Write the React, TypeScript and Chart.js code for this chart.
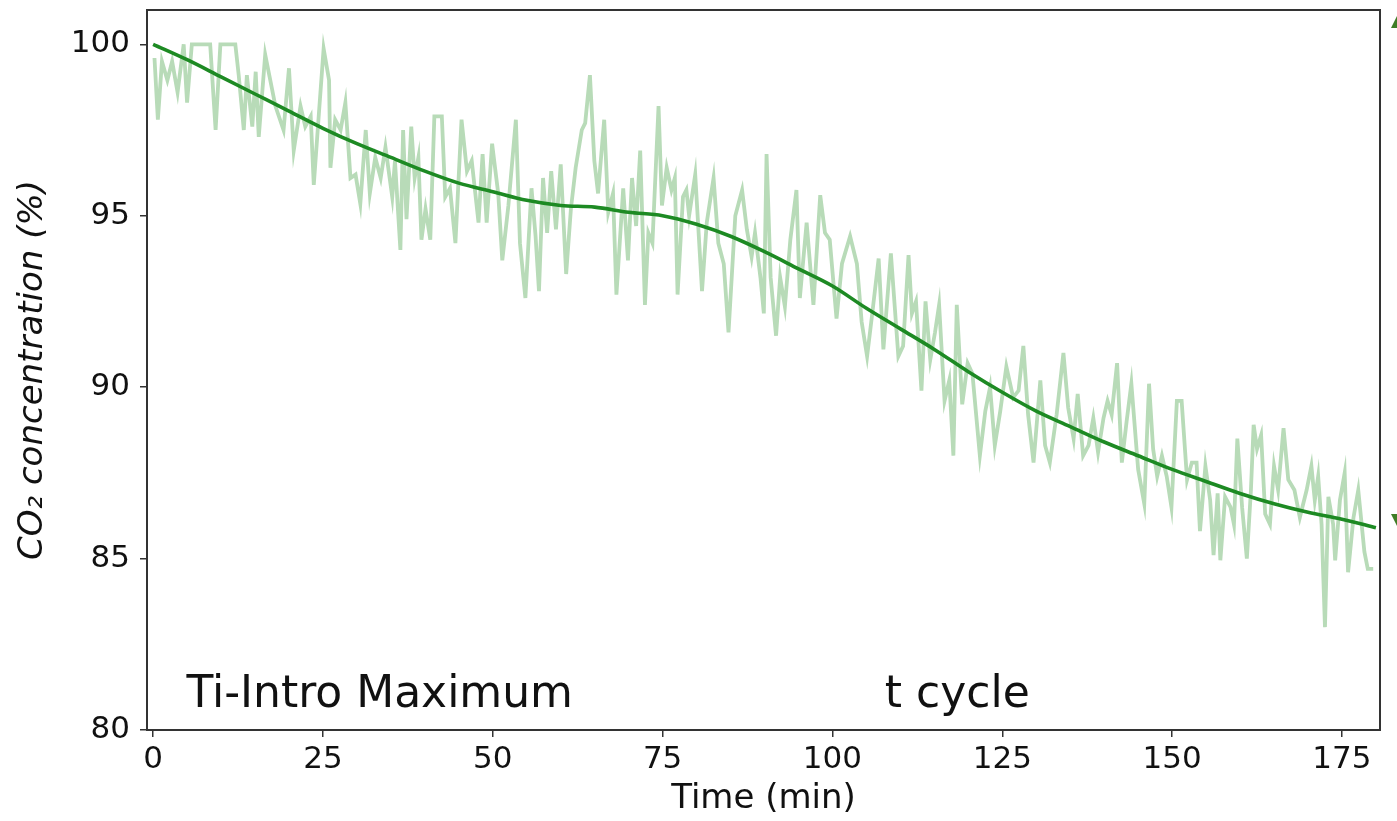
import React, { useEffect, useRef } from 'react';
import { Chart, registerables } from 'chart.js';

Chart.register(...registerables);

// Smoothed trend (min, %)
const smoothTime = [0, 5, 10, 15, 20, 25, 30, 35, 40, 45, 50, 55, 60, 65, 70, 75, 80, 85, 90, 95, 100, 105, 110, 115, 120, 125, 130, 135, 140, 145, 150, 155, 160, 165, 170, 175, 180];
const smoothValue = [100, 99.55, 99.05, 98.55, 98.05, 97.55, 97.1, 96.7, 96.3, 95.95, 95.7, 95.45, 95.3, 95.25, 95.1, 95.0, 94.75, 94.4, 93.95, 93.45, 92.95, 92.3, 91.7, 91.1, 90.45, 89.85, 89.3, 88.85, 88.4, 88.0, 87.6, 87.25, 86.9, 86.6, 86.35, 86.15, 85.9];

// Raw measurement (min, %)
const noisyTime = [
  0.2, 0.7, 1.3, 2.1, 2.8, 3.6, 4.5, 5.0, 5.7, 8.4, 9.2, 9.9, 12.1, 12.6, 13.35, 13.8, 14.6, 15.1, 15.55, 16.5,
  17.5, 18.0, 19.2, 20.0, 20.7, 21.7, 22.4, 23.2, 23.65, 24.4, 25.1, 25.9, 26.1, 26.8, 27.6, 28.3, 29.05, 29.8, 30.5, 31.3,
  31.9, 32.7, 33.5, 34.2, 35.2, 35.6, 36.4, 36.8, 37.3, 38.0, 38.5, 39.05, 39.5, 40.1, 40.8, 41.4, 42.0, 42.5, 43.0, 43.7,
  44.5, 45.4, 46.2, 46.9, 47.9, 48.5, 49.1, 49.9, 50.8, 51.4, 52.3, 53.4, 54.0, 54.8, 55.7, 56.3, 56.8, 57.4, 58.0, 58.6,
  59.3, 60.0, 60.8, 61.5, 62.2, 63.1, 63.6, 64.3, 64.95, 65.5, 66.4, 67.0, 67.7, 68.2, 69.2, 69.9, 70.5, 71.1, 71.7, 72.4,
  72.9, 73.5, 74.4, 74.9, 75.6, 76.3, 76.8, 77.2, 78.0, 78.5, 78.9, 79.8, 80.8, 81.5, 82.5, 83.2, 84.0, 84.7, 85.7, 86.7,
  87.4, 88.1, 88.6, 89.4, 89.9, 90.3, 90.9, 91.7, 92.3, 93.0, 93.8, 94.7, 95.2, 96.2, 97.2, 98.2, 98.9, 99.6, 100.6, 101.4,
  102.6, 103.6, 104.3, 105.1, 105.8, 106.8, 107.5, 108.6, 109.7, 110.4, 111.2, 111.7, 112.3, 113.1, 113.7, 114.4, 115.1, 115.7, 116.5, 117.2,
  117.8, 118.3, 119.1, 119.9, 120.6, 121.7, 122.5, 123.2, 123.9, 124.7, 125.6, 126.6, 127.4, 128.1, 128.8, 129.6, 130.6, 131.3, 132.0, 133.0,
  134.0, 134.7, 135.5, 136.1, 136.9, 137.7, 138.4, 139.1, 139.9, 140.5, 141.1, 141.9, 142.6, 143.3, 144.0, 145.0, 145.9, 146.6, 147.2, 147.8,
  148.5, 149.2, 149.9, 150.7, 151.4, 152.2, 152.9, 153.6, 154.1, 154.9, 155.6, 156.1, 156.7, 157.1, 157.8, 158.6, 159.1, 159.6, 160.3, 161.0,
  161.6, 162.0, 162.5, 163.1, 163.7, 164.4, 165.0, 165.6, 166.4, 167.1, 168.0, 168.8, 169.8, 170.5, 171.0, 171.5, 172.0, 172.5, 173.0, 173.7,
  174.0, 174.7, 175.4, 175.9, 176.7, 177.4, 178.3, 178.8, 179.6
];
const noisyValue = [
  99.6, 97.8, 99.5, 98.95, 99.5, 98.6, 100, 98.3, 100, 100, 97.5, 100, 100, 99.1, 97.5, 99.1, 97.6, 99.2, 97.3, 99.7,
  98.7, 98.2, 97.5, 99.3, 96.9, 98.2, 97.6, 97.9, 95.9, 97.97, 99.87, 98.95, 96.4, 97.8, 97.5, 98.3, 96.1, 96.2, 95.35, 97.5,
  95.65, 96.7, 96.1, 97.0, 95.55, 96.6, 94.0, 97.5, 94.9, 97.6, 96.1, 96.7, 94.3, 95.2, 94.3, 97.9, 97.9, 97.9, 95.55, 95.8,
  94.2, 97.8, 96.3, 96.6, 94.8, 96.8, 94.8, 97.1, 95.65, 93.7, 95.3, 97.8, 94.2, 92.6, 95.8, 94.4, 92.8, 96.1, 94.5, 96.3,
  94.6, 96.5, 93.3, 95.2, 96.4, 97.5, 97.7, 99.1, 96.6, 95.65, 97.8, 95.1, 95.65, 92.7, 95.8, 93.7, 96.1, 94.7, 96.9, 92.4,
  94.5, 94.2, 98.2, 95.3, 96.4, 95.75, 96.1, 92.7, 95.55, 95.75, 95.0, 96.2, 92.8, 94.8, 96.1, 94.2, 93.6, 91.6, 95.0, 95.75,
  94.6, 93.8, 94.5, 93.2, 92.15, 96.8, 93.2, 91.5, 93.2, 92.35, 94.3, 95.75, 92.6, 94.8, 92.4, 95.6, 94.5, 94.3, 92.0, 93.6,
  94.4, 93.6, 91.9, 90.9, 92.05, 93.75, 91.1, 93.9, 90.9, 91.2, 93.85, 92.15, 92.5, 89.9, 92.5, 90.8, 91.6, 92.4, 89.6, 90.2,
  88.0, 92.4, 89.5, 90.7, 90.4, 88.0, 89.3, 90.0, 88.3, 89.3, 90.6, 89.7, 89.9, 91.2, 89.2, 87.8, 90.2, 88.3, 87.8, 89.2,
  91.0, 89.4, 88.5, 89.8, 88.0, 88.3, 89.1, 88.1, 89.1, 89.6, 89.2, 90.7, 87.8, 89.0, 90.1, 87.6, 86.6, 90.1, 88.2, 87.4,
  88.0, 87.4, 86.5, 89.6, 89.6, 87.3, 87.8, 87.8, 85.8, 87.7, 86.7, 85.1, 86.9, 84.95, 86.8, 86.5, 86.0, 88.5, 86.5, 85.0,
  87.0, 88.9, 88.2, 88.6, 86.3, 86.0, 87.7, 87.0, 88.8, 87.3, 87.0, 86.2, 87.0, 87.7, 86.7, 87.4, 86.0, 83.0, 86.8, 86.0,
  84.95, 86.7, 87.5, 84.6, 86.2, 87.0, 85.2, 84.7, 84.7
];

const xTicks = [0, 25, 50, 75, 100, 125, 150, 175];
const yTicks = [80, 85, 90, 95, 100];
const xTitle = 'Time (min)';
const yTitle = 'CO\u2082 concentration (%)';
const annotationTexts = ['Ti-Intro Maximum', 't cycle'];
const annotationX = [4.9, 107.7];
const annotationY = 80.67;

const FONT = '"DejaVu Sans"';

const framePlugin = {
  id: 'framePlugin',
  afterDraw(chart: any) {
    const { ctx, chartArea, scales } = chart;
    const { left, top, right, bottom } = chartArea;
    ctx.save();
    ctx.strokeStyle = '#333';
    ctx.lineWidth = 2;
    ctx.strokeRect(left, top, right - left, bottom - top);

    ctx.font = `44px ${FONT}`;
    ctx.fillStyle = '#111';
    ctx.textBaseline = 'alphabetic';
    ctx.textAlign = 'left';
    annotationTexts.forEach((t, i) => {
      ctx.fillText(t, scales.x.getPixelForValue(annotationX[i]), scales.y.getPixelForValue(annotationY));
    });

    // clipped marker fragments at the right edge
    ctx.fillStyle = '#3f7d26';
    const w = chart.width;
    ctx.beginPath();
    ctx.moveTo(w - 6, top + 18);
    ctx.lineTo(w + 2, top + 2);
    ctx.lineTo(w + 10, top + 18);
    ctx.closePath();
    ctx.fill();
    ctx.beginPath();
    ctx.moveTo(w - 6, top + 504);
    ctx.lineTo(w + 10, top + 504);
    ctx.lineTo(w + 2, top + 520);
    ctx.closePath();
    ctx.fill();
    ctx.restore();
  },
};

const zeroPad = (s: any) => {
  s.paddingTop = 0;
  s.paddingBottom = 0;
  s.paddingLeft = 0;
  s.paddingRight = 0;
};

export default function App() {
  const canvasRef = useRef<HTMLCanvasElement | null>(null);

  useEffect(() => {
    if (!canvasRef.current) return;
    Chart.defaults.font.family = FONT;
    const chart = new Chart(canvasRef.current, {
      type: 'line',
      data: {
        datasets: [
          {
            label: 'smooth',
            data: smoothTime.map((t, i) => ({ x: t, y: smoothValue[i] })),
            borderColor: '#1d8a23',
            borderWidth: 3.6,
            pointRadius: 0,
            cubicInterpolationMode: 'monotone',
            fill: false,
            order: 0,
          },
          {
            label: 'raw',
            data: noisyTime.map((t, i) => ({ x: t, y: noisyValue[i] })),
            borderColor: '#b8dbb8',
            borderWidth: 3.8,
            pointRadius: 0,
            tension: 0,
            fill: false,
            order: 1,
          },
        ],
      },
      options: {
        responsive: false,
        animation: false,
        devicePixelRatio: 1,
        layout: { padding: { left: 0, top: 10, right: 17, bottom: 0 } },
        plugins: {
          legend: { display: false },
          tooltip: { enabled: false },
        },
        scales: {
          x: {
            type: 'linear',
            min: -0.9,
            max: 180.6,
            afterBuildTicks: (s: any) => {
              s.ticks = xTicks.map((v) => ({ value: v }));
            },
            afterFit: (s: any) => {
              s.height = 91;
              zeroPad(s);
            },
            ticks: {
              font: { size: 31 },
              color: '#111',
              padding: 4,
              maxRotation: 0,
              autoSkip: false,
            },
            grid: { drawOnChartArea: false, drawTicks: true, tickLength: 7, color: '#333', lineWidth: 1.5 },
            border: { display: false },
            title: { display: true, text: xTitle, font: { size: 34 }, color: '#111', padding: { top: 0, bottom: 1 } },
          },
          y: {
            type: 'linear',
            min: 80,
            max: 101,
            afterBuildTicks: (s: any) => {
              s.ticks = yTicks.map((v) => ({ value: v }));
            },
            afterFit: (s: any) => {
              s.width = 147;
              zeroPad(s);
            },
            ticks: {
              font: { size: 31 },
              color: '#111',
              padding: 10,
              autoSkip: false,
            },
            grid: { drawOnChartArea: false, drawTicks: true, tickLength: 7, color: '#333', lineWidth: 1.5 },
            border: { display: false },
            title: {
              display: true,
              text: yTitle,
              font: { size: 34, style: 'italic' },
              color: '#111',
              padding: { top: 13, bottom: 0 },
            },
          },
        },
      },
      plugins: [framePlugin],
    } as any);
    return () => chart.destroy();
  }, []);

  return (
    <div style={{ position: 'absolute', left: 0, top: 0, width: 1397, height: 821, background: '#fff' }}>
      <canvas ref={canvasRef} width={1397} height={821} />
    </div>
  );
}
